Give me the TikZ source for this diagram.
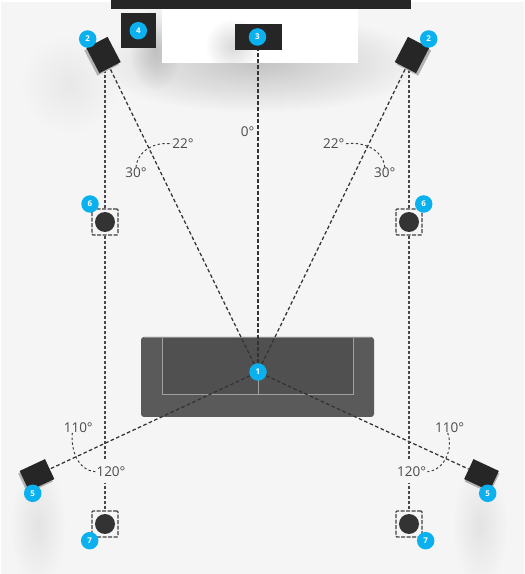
\documentclass[tikz,border=0pt]{standalone}
\usepackage{fontspec}
\setmainfont{Open Sans}
\usepackage{xcolor}
\usetikzlibrary{
  positioning,
  backgrounds,
  fadings
}
\definecolor{roombg}{HTML}{F5F5F5}
\definecolor{inkdark}{HTML}{262626}
\definecolor{badgeblue}{HTML}{0BB0EE}
\definecolor{sofagray}{HTML}{5A5A5A}
\definecolor{sofaseat}{HTML}{505050}
\definecolor{sofaline}{HTML}{A0A0A0}
\definecolor{labelgray}{HTML}{4A4A4A}
\tikzfading[name=softblob, inner color=transparent!0, outer color=transparent!100]

\begin{document}
\begin{tikzpicture}[
  x=1pt, y=1pt,
  badge/.style={circle, fill=badgeblue, text=white, minimum size=17.5pt, inner sep=0pt, font=\fontsize{8}{8}\selectfont\bfseries},
  speaker/.style={rectangle, fill=inkdark, minimum width=24pt, minimum height=28.5pt, inner sep=0pt},
  rearspeaker/.style={rectangle, fill=inkdark, minimum width=28pt, minimum height=22pt, inner sep=0pt},
  spkshadow/.style={rectangle, fill=black!30, inner sep=0pt},
  subframe/.style={rectangle, draw=black!75, line width=1.2pt, dash pattern=on 4pt off 1.5pt, rounded corners=1pt, minimum size=26pt, inner sep=0pt},
  subcone/.style={circle, fill=black!80, minimum size=20pt, inner sep=0pt},
  angle/.style={text=labelgray, inner sep=0pt, font=\fontsize{13.5}{15}\selectfont},
  anglecut/.style={angle, fill=roombg, inner xsep=1pt, minimum height=23pt},
  wire/.style={draw=black!80, line width=1.25pt, dash pattern=on 3.6pt off 2.4pt},
  sidewire/.style={draw=black!72, line width=1.7pt, dash pattern=on 3pt off 2pt},
  arcline/.style={draw=black!75, line width=1pt, dash pattern=on 2.4pt off 2.4pt},
  softshade/.style={fill=black, path fading=softblob},
]
\useasboundingbox (0,0) rectangle (525,574);

% speakers
\node[spkshadow, minimum width=24pt, minimum height=28.5pt, rotate=27.5] (spk2lshade) at (101.5,516.5) {};
\node[speaker, rotate=27.5] (spk2l) at (103.5,519) {};
\node[spkshadow, minimum width=24pt, minimum height=28.5pt, rotate=-27.5] (spk2rshade) at (414,516.5) {};
\node[speaker, rotate=-27.5] (spk2r) at (412,519) {};
\node[rectangle, fill=inkdark, minimum width=47pt, minimum height=26pt, inner sep=0pt] (spk3) at (258,537) {};
\node[rectangle, fill=inkdark, minimum size=35pt, inner sep=0pt] (sub4) at (138.5,543.5) {};
\node[spkshadow, minimum width=28pt, minimum height=22pt, rotate=25] (spk5lshade) at (35.5,96.5) {};
\node[rearspeaker, rotate=25] (spk5l) at (37,99) {};
\node[spkshadow, minimum width=28pt, minimum height=22pt, rotate=-25] (spk5rshade) at (482,96.5) {};
\node[rearspeaker, rotate=-25] (spk5r) at (481.5,99) {};

% side and rear subs
\node[subframe] (sub6l) at (105,352) {};
\node[subframe] (sub6r) at (409,352) {};
\node[subframe] (sub7l) at (105,50) {};
\node[subframe] (sub7r) at (409,50) {};
\node[subcone] (cone6l) at (sub6l) {};
\node[subcone] (cone6r) at (sub6r) {};
\node[subcone] (cone7l) at (sub7l) {};
\node[subcone] (cone7r) at (sub7r) {};

% labels
\node[angle] (a22l) at (183,430) {22°};
\node[angle] (a30l) at (136,401.5) {30°};
\node[angle] (a0) at (247.7,442.3) {0°};
\node[angle] (a22r) at (333.7,430) {22°};
\node[angle] (a30r) at (384.7,401.5) {30°};
\node[angle] (a110l) at (78.3,146.3) {110°};
\node[angle] (a110r) at (449.7,146.3) {110°};

% badges
\node[badge] (c1) at (258,202) {1};
\node[badge] (b2l) at (87.7,535) {2};
\node[badge] (b2r) at (428.7,535) {2};
\node[badge] (b3) at (257.5,537) {3};
\node[badge] (b4) at (138.3,543.3) {4};
\node[badge] (b5l) at (32.7,80.7) {5};
\node[badge] (b5r) at (487.7,80.7) {5};
\node[badge] (b6l) at (90,370) {6};
\node[badge] (b6r) at (423.7,370) {6};
\node[badge] (b7l) at (89.7,33.3) {7};
\node[badge] (b7r) at (425.7,33.3) {7};

\begin{scope}[on background layer]
  % room
  \fill[white] (0,0) rectangle (525,574);
  \fill[roombg] (1,0) rectangle (523.5,571.5);
  \fill[softshade, opacity=0.2] (258,511) ellipse (165 and 50);
  \fill[softshade, opacity=0.16] (155,525) ellipse (26 and 42);
  \fill[softshade, opacity=0.05] (70,490) ellipse (50 and 50);
  \fill[softshade, opacity=0.07] (38,48) ellipse (28 and 62);
  \fill[softshade, opacity=0.07] (480,48) ellipse (28 and 62);
  \fill[inkdark] (111,565) rectangle (411,574);
  \fill[white] (162,511) rectangle (358,565);
  \begin{scope}
    \clip (162,511) rectangle (358,565);
    \fill[softshade, opacity=0.15] (233,528) ellipse (28 and 28);
  \end{scope}
  % sofa
  \fill[sofagray, rounded corners=3pt] (141,157) rectangle (374,237);
  \fill[sofaseat] (162,179) rectangle (353,236);
  \draw[sofaline, line width=1pt] (162,236.5) -- (162,179) -- (353,179) -- (353,236.5);
  \draw[black!45, line width=0.8pt] (144,236.5) -- (371,236.5);
  \draw[sofaline, line width=1pt] (258,202) -- (258,179);

  % to the listener
  \draw[wire] (c1) -- (spk2l);
  \draw[wire] (c1) -- (spk2r);
  \draw[wire] (c1) -- (spk3);
  \draw[wire] (c1) -- (spk5l);
  \draw[wire] (c1) -- (spk5r);

  % side columns
  \draw[sidewire] (sub6l.north) -- (sub6l |- spk2lshade);
  \draw[sidewire] (sub6r.north) -- (sub6r |- spk2rshade);
  \draw[sidewire] (sub6l.south) -- (sub7l.north);
  \draw[sidewire] (sub6r.south) -- (sub7r.north);
\end{scope}

\node[anglecut] (a120l) at (111,102.3) {120°};
\node[anglecut] (a120r) at (411.7,102.3) {120°};

% angle arcs
\draw[arcline] (a30l.north) to[out=85, in=170] (a22l.west);
\draw[arcline] (a30r.north) to[out=95, in=10] (a22r.east);
\draw[arcline] (a110l.south) ++(-6,0) coordinate (a110lfoot) to[out=265, in=175] (a120l.west);
\draw[arcline] (a110r.south) ++(-2,0) coordinate (a110rfoot) to[out=-70, in=5] (a120r.east);
\end{tikzpicture}
\end{document}
